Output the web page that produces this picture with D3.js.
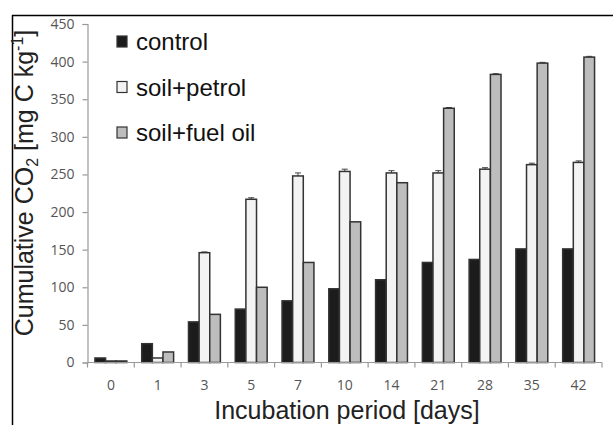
<!DOCTYPE html>
<html>
<head>
<meta charset="utf-8">
<script src="https://cdn.jsdelivr.net/npm/d3@7"></script>
<style>
  html, body { margin: 0; padding: 0; background: #fff; }
  svg { display: block; }
</style>
</head>
<body>
<svg id="chart" width="613" height="425"></svg>
<script>
// Incubation days (categories)
const days = ["0", "1", "3", "5", "7", "10", "14", "21", "28", "35", "42"];
// Cumulative CO2 [mg C kg-1] per treatment
const control   = [6, 25, 54, 71, 82, 98, 110, 133, 137, 151, 151];
const petrol    = [2, 6, 146, 217, 248, 254, 252, 252, 257, 263, 266];
const fuelOil   = [2, 14, 64, 100, 133, 187, 239, 338, 383, 398, 406];
// Standard errors
const errPetrol = [0, 0, 1, 2, 4, 3, 3, 3, 2, 2, 2];
const errFuel   = [0, 0, 0, 0, 0, 0, 0, 1, 1, 1, 1];

const seriesNames = ["control", "soil+petrol", "soil+fuel oil"];
const fills = ["#1c1c1c", "#f3f3f3", "#bdbdbd"];
const yTicks = [0, 50, 100, 150, 200, 250, 300, 350, 400, 450];

const svg = d3.select("#chart");
const m = { left: 87.5, right: 602, top: 24, bottom: 362.5 };

// frame lines (top and left)
svg.append("line").attr("x1", 12).attr("x2", 613).attr("y1", 15.5).attr("y2", 15.5)
  .attr("stroke", "#000").attr("stroke-width", 1.5);
svg.append("line").attr("x1", 12.5).attr("x2", 12.5).attr("y1", 15).attr("y2", 425)
  .attr("stroke", "#000").attr("stroke-width", 1.5);

const x = d3.scaleBand().domain(days).range([m.left, m.right]).padding(0);
const xs = d3.scaleBand().domain(seriesNames).range([0, x.bandwidth()]).paddingInner(0).paddingOuter(0.7);
const y = d3.scaleLinear().domain([0, 450]).range([m.bottom, m.top]);

// y axis
const yAxis = svg.append("g").attr("transform", `translate(${m.left},0)`)
  .call(d3.axisLeft(y).tickValues(yTicks).tickSize(5).tickPadding(8));
yAxis.select(".domain").attr("stroke", "#999").attr("stroke-width", 1.2);
yAxis.selectAll(".tick line").attr("stroke", "#999").attr("stroke-width", 1.2);
yAxis.selectAll(".tick text").attr("fill", "#555").attr("font-family", "Open Sans, sans-serif").attr("font-size", 14);

const data = days.map((d, i) => ({
  day: d,
  vals: [
    { s: seriesNames[0], v: control[i], e: 0 },
    { s: seriesNames[1], v: petrol[i], e: errPetrol[i] },
    { s: seriesNames[2], v: fuelOil[i], e: errFuel[i] }
  ]
}));

const groups = svg.append("g").selectAll("g").data(data).join("g")
  .attr("transform", d => `translate(${x(d.day)},0)`);

// error bars
groups.selectAll("path.err").data(d => d.vals.filter(v => v.e > 0)).join("path")
  .attr("class", "err")
  .attr("d", v => {
    const cx = xs(v.s) + xs.bandwidth() / 2;
    const top = y(v.v + v.e);
    return `M${cx},${y(v.v)}V${top}M${cx - 3},${top}H${cx + 3}`;
  })
  .attr("stroke", "#444").attr("stroke-width", 1).attr("fill", "none");

groups.selectAll("rect").data(d => d.vals).join("rect")
  .attr("x", v => xs(v.s))
  .attr("width", xs.bandwidth())
  .attr("y", v => y(v.v))
  .attr("height", v => y(0) - y(v.v))
  .attr("fill", (v, i) => fills[i])
  .attr("stroke", "#333").attr("stroke-width", 1.5);

// x axis
const xAxisG = svg.append("g").attr("transform", `translate(0,${m.bottom})`);
xAxisG.append("line").attr("x1", m.left).attr("x2", m.right).attr("y1", 0).attr("y2", 0)
  .attr("stroke", "#999").attr("stroke-width", 1.2);
xAxisG.selectAll("line.tk").data(days.concat(["end"])).join("line").attr("class", "tk")
  .attr("x1", (d, i) => m.left + i * x.bandwidth()).attr("x2", (d, i) => m.left + i * x.bandwidth())
  .attr("y1", 0).attr("y2", 5).attr("stroke", "#999").attr("stroke-width", 1.2);
xAxisG.selectAll("text").data(days).join("text")
  .attr("x", d => x(d) + x.bandwidth() / 2).attr("y", 27)
  .attr("text-anchor", "middle").attr("fill", "#555")
  .attr("font-family", "Open Sans, sans-serif").attr("font-size", 14)
  .text(d => d);

// axis titles
svg.append("text").attr("x", 347).attr("y", 419).attr("text-anchor", "middle")
  .attr("font-family", "Liberation Sans, Arial, sans-serif").attr("font-size", 25).attr("fill", "#222")
  .text("Incubation period [days]");

const yt = svg.append("text").attr("transform", "translate(33,183) rotate(-90)")
  .attr("text-anchor", "middle")
  .attr("font-family", "Liberation Sans, Arial, sans-serif").attr("font-size", 25).attr("fill", "#222");
yt.append("tspan").text("Cumulative CO");
yt.append("tspan").attr("font-size", 16).attr("dy", 5).text("2");
yt.append("tspan").attr("dy", -5).text(" [mg C kg");
yt.append("tspan").attr("font-size", 16).attr("dy", -10).text("-1");
yt.append("tspan").attr("dy", 10).text("]");

// legend
const legend = svg.append("g").selectAll("g").data(seriesNames).join("g")
  .attr("transform", (d, i) => `translate(117,${42 + i * 45.5})`);
legend.append("rect").attr("x", 0).attr("y", -6).attr("width", 10).attr("height", 11)
  .attr("fill", (d, i) => fills[i]).attr("stroke", "#333").attr("stroke-width", 1.2);
legend.append("text").attr("x", 19).attr("y", 8)
  .attr("font-family", "Liberation Sans, Arial, sans-serif").attr("font-size", 24).attr("fill", "#111")
  .text(d => d);
</script>
</body>
</html>
